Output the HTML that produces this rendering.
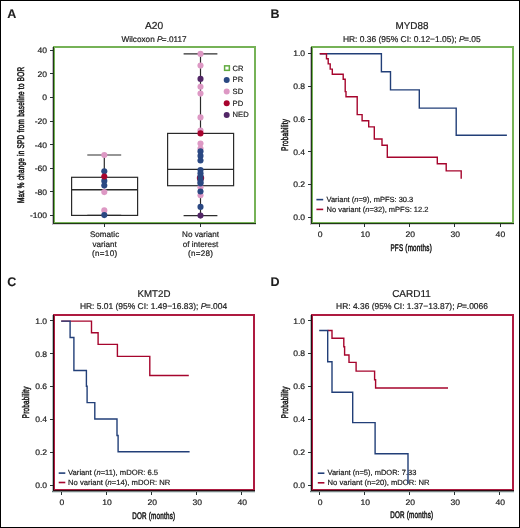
<!DOCTYPE html><html><head><meta charset="utf-8"><style>html,body{margin:0;padding:0;background:#fff;width:520px;height:528px;overflow:hidden;}svg{display:block;will-change:transform;text-rendering:geometricPrecision;}</style></head><body>
<svg width="520" height="528" viewBox="0 0 520 528" font-family='"Liberation Sans", sans-serif' fill="#1c1c1c">
<style>text{stroke:#1c1c1c;stroke-width:0.2px;}</style>
<rect x="0" y="0" width="520" height="528" fill="#fff"/>
<rect x="0.5" y="0.5" width="519" height="527" fill="none" stroke="#000" stroke-width="1"/>
<text x="7.2" y="17.8" font-size="12.5" text-anchor="start" font-weight="bold" style="stroke-width:0.1px">A</text>
<text x="270.6" y="17.9" font-size="12.5" text-anchor="start" font-weight="bold" style="stroke-width:0.1px">B</text>
<text x="7.2" y="285.8" font-size="12.5" text-anchor="start" font-weight="bold" style="stroke-width:0.1px">C</text>
<text x="270.6" y="285.6" font-size="12.5" text-anchor="start" font-weight="bold" style="stroke-width:0.1px">D</text>
<text x="154" y="29.2" font-size="10.2" text-anchor="middle" font-weight="normal" >A20</text>
<text x="154" y="41.8" font-size="8.2" text-anchor="middle" font-weight="normal" >Wilcoxon <tspan font-style="italic" dx="0">P</tspan><tspan dx="-0.6">=</tspan>.0117</text>
<line x1="104.3" y1="155.0" x2="104.3" y2="177.3" stroke="#2a2a2a" stroke-width="1.2"/>
<line x1="104.3" y1="215.4" x2="104.3" y2="215.4" stroke="#2a2a2a" stroke-width="1.2"/>
<line x1="87.3" y1="155.0" x2="121.2" y2="155.0" stroke="#2e2e2e" stroke-width="1.2"/>
<line x1="87.3" y1="215.4" x2="121.2" y2="215.4" stroke="#2e2e2e" stroke-width="1.2"/>
<rect x="71.6" y="177.3" width="66.0" height="38.099999999999994" fill="none" stroke="#2a2a2a" stroke-width="1.2"/>
<line x1="71.6" y1="189.8" x2="137.6" y2="189.8" stroke="#2a2a2a" stroke-width="1.4"/>
<line x1="200.5" y1="53.9" x2="200.5" y2="133.4" stroke="#2a2a2a" stroke-width="1.2"/>
<line x1="200.5" y1="185.7" x2="200.5" y2="215.6" stroke="#2a2a2a" stroke-width="1.2"/>
<line x1="183.6" y1="53.9" x2="217.4" y2="53.9" stroke="#2e2e2e" stroke-width="1.2"/>
<line x1="183.6" y1="215.6" x2="217.4" y2="215.6" stroke="#2e2e2e" stroke-width="1.2"/>
<rect x="167.6" y="133.4" width="66.0" height="52.29999999999998" fill="none" stroke="#2a2a2a" stroke-width="1.2"/>
<line x1="167.6" y1="169.4" x2="233.6" y2="169.4" stroke="#2a2a2a" stroke-width="1.4"/>
<circle cx="104.3" cy="155.0" r="3.05" fill="#dd98c4"/>
<circle cx="104.3" cy="171.3" r="3.05" fill="#2a4882"/>
<circle cx="104.3" cy="185.6" r="3.05" fill="#2a4882"/>
<circle cx="104.3" cy="180.9" r="3.05" fill="#2a4882"/>
<circle cx="104.3" cy="176.5" r="3.05" fill="#a8042e"/>
<circle cx="104.3" cy="192.1" r="3.05" fill="#dd98c4"/>
<circle cx="104.3" cy="210.4" r="3.05" fill="#dd98c4"/>
<circle cx="104.3" cy="215.1" r="3.05" fill="#2a4882"/>
<circle cx="200.5" cy="53.9" r="3.05" fill="#dd98c4"/>
<circle cx="200.5" cy="65.6" r="3.05" fill="#dd98c4"/>
<circle cx="200.5" cy="78.9" r="3.05" fill="#522666"/>
<circle cx="200.5" cy="86.8" r="3.05" fill="#dd98c4"/>
<circle cx="200.5" cy="93.6" r="3.05" fill="#dd98c4"/>
<circle cx="200.5" cy="117.4" r="3.05" fill="#dd98c4"/>
<circle cx="200.5" cy="130.6" r="3.05" fill="#dd98c4"/>
<circle cx="200.5" cy="133.4" r="3.05" fill="#a8042e"/>
<circle cx="200.5" cy="143.6" r="3.05" fill="#dd98c4"/>
<circle cx="200.5" cy="148.6" r="3.05" fill="#dd98c4"/>
<circle cx="200.5" cy="151.4" r="3.05" fill="#2a4882"/>
<circle cx="200.5" cy="155.9" r="3.05" fill="#2a4882"/>
<circle cx="200.5" cy="160.5" r="3.05" fill="#2a4882"/>
<circle cx="200.5" cy="187.2" r="3.05" fill="#dd98c4"/>
<circle cx="200.5" cy="195.3" r="3.05" fill="#dd98c4"/>
<circle cx="200.5" cy="178.1" r="3.7" fill="#a8042e"/>
<circle cx="200.5" cy="170.0" r="3.05" fill="#2a4882"/>
<circle cx="200.5" cy="173.2" r="3.05" fill="#2a4882"/>
<circle cx="200.5" cy="176.3" r="3.05" fill="#2a4882"/>
<circle cx="200.5" cy="179.5" r="3.05" fill="#2a4882"/>
<circle cx="200.5" cy="182.0" r="3.05" fill="#2a4882"/>
<circle cx="200.5" cy="183.4" r="3.05" fill="#2a4882"/>
<circle cx="200.5" cy="191.5" r="3.05" fill="#2a4882"/>
<circle cx="200.5" cy="206.9" r="3.05" fill="#2a4882"/>
<circle cx="200.5" cy="215.6" r="3.05" fill="#522666"/>
<rect x="224.6" y="65.85" width="4.75" height="4.5" fill="#fff" stroke="#62ab40" stroke-width="1.5"/>
<text x="232.6" y="70.80" font-size="7.6" text-anchor="start" font-weight="normal" >CR</text>
<circle cx="226.7" cy="79.95" r="3.0" fill="#2a4882"/>
<text x="232.6" y="82.45" font-size="7.6" text-anchor="start" font-weight="normal" >PR</text>
<circle cx="226.7" cy="91.60" r="3.0" fill="#dd98c4"/>
<text x="232.6" y="94.10" font-size="7.6" text-anchor="start" font-weight="normal" >SD</text>
<circle cx="226.7" cy="103.25" r="3.0" fill="#a8042e"/>
<text x="232.6" y="105.75" font-size="7.6" text-anchor="start" font-weight="normal" >PD</text>
<circle cx="226.7" cy="114.90" r="3.0" fill="#522666"/>
<text x="232.6" y="117.40" font-size="7.6" text-anchor="start" font-weight="normal" >NED</text>
<line x1="52.5" y1="47" x2="52.5" y2="225" stroke="#c2b3c8" stroke-width="1"/>
<line x1="52" y1="224.5" x2="256" y2="224.5" stroke="#c2b3c8" stroke-width="1" opacity="0.6"/>
<rect x="54" y="47" width="201" height="176" fill="none" stroke="#76b257" stroke-width="2"/>
<line x1="53.5" y1="47" x2="53.5" y2="224" stroke="#1e3c12" stroke-width="1"/>
<line x1="53" y1="223.5" x2="256" y2="223.5" stroke="#1e3c12" stroke-width="1"/>
<line x1="50" y1="50.50" x2="53" y2="50.50" stroke="#263232" stroke-width="1"/>
<text transform="translate(47.1,53.25) scale(1.08,1)" font-size="7.95" text-anchor="end">40</text>
<line x1="50" y1="73.50" x2="53" y2="73.50" stroke="#263232" stroke-width="1"/>
<text transform="translate(47.1,76.82) scale(1.08,1)" font-size="7.95" text-anchor="end">20</text>
<line x1="50" y1="97.50" x2="53" y2="97.50" stroke="#263232" stroke-width="1"/>
<text transform="translate(47.1,100.39) scale(1.08,1)" font-size="7.95" text-anchor="end">0</text>
<line x1="50" y1="121.50" x2="53" y2="121.50" stroke="#263232" stroke-width="1"/>
<text transform="translate(47.1,123.96) scale(1.08,1)" font-size="7.95" text-anchor="end">-20</text>
<line x1="50" y1="144.50" x2="53" y2="144.50" stroke="#263232" stroke-width="1"/>
<text transform="translate(47.1,147.54) scale(1.08,1)" font-size="7.95" text-anchor="end">-40</text>
<line x1="50" y1="168.50" x2="53" y2="168.50" stroke="#263232" stroke-width="1"/>
<text transform="translate(47.1,171.11) scale(1.08,1)" font-size="7.95" text-anchor="end">-60</text>
<line x1="50" y1="191.50" x2="53" y2="191.50" stroke="#263232" stroke-width="1"/>
<text transform="translate(47.1,194.68) scale(1.08,1)" font-size="7.95" text-anchor="end">-80</text>
<line x1="50" y1="215.50" x2="53" y2="215.50" stroke="#263232" stroke-width="1"/>
<text transform="translate(47.1,218.25) scale(1.08,1)" font-size="7.95" text-anchor="end">-100</text>
<line x1="104.50" y1="224" x2="104.50" y2="227" stroke="#263232" stroke-width="1"/>
<line x1="200.50" y1="224" x2="200.50" y2="227" stroke="#263232" stroke-width="1"/>
<text x="104.6" y="237.20" font-size="8.1" text-anchor="middle" font-weight="normal" >Somatic</text>
<text x="104.6" y="246.80" font-size="8.1" text-anchor="middle" font-weight="normal" >variant</text>
<text x="104.75" y="256.40" font-size="8.1" text-anchor="middle" font-weight="normal" letter-spacing="0.28">(n=10)</text>
<text x="200.5" y="237.20" font-size="8.1" text-anchor="middle" font-weight="normal" >No variant</text>
<text x="200.5" y="246.80" font-size="8.1" text-anchor="middle" font-weight="normal" >of interest</text>
<text x="200.65" y="256.40" font-size="8.1" text-anchor="middle" font-weight="normal" letter-spacing="0.28">(n=28)</text>
<text transform="translate(23.9,134.9) rotate(-90) scale(0.667,1)" font-size="9.6" font-weight="normal" text-anchor="middle" letter-spacing="0.35" style="stroke-width:0.55px">Max % change in SPD from baseline to BOR</text>
<text x="412" y="29.0" font-size="9.9" text-anchor="middle" font-weight="normal" >MYD88</text>
<text x="411.8" y="41.9" font-size="8.45" text-anchor="middle" font-weight="normal" >HR: 0.36 (95% CI: 0.12−1.05); <tspan font-style="italic" dx="0">P</tspan><tspan dx="-0.6">=</tspan>.05</text>
<polyline points="319.75,53.70 381.40,53.70 381.40,71.80 390.50,71.80 390.50,89.90 419.30,89.90 419.30,108.10 456.20,108.10 456.20,135.20 506.90,135.20" fill="none" stroke="#223f78" stroke-width="1.4" stroke-linejoin="miter" stroke-linecap="butt"/>
<polyline points="319.75,53.70 326.50,53.70 326.50,58.70 328.20,58.70 328.20,63.90 330.20,63.90 330.20,69.10 332.30,69.10 332.30,74.20 343.20,74.20 343.20,79.30 345.20,79.30 345.20,91.60 346.00,91.60 346.00,96.70 357.20,96.70 357.20,114.60 362.10,114.60 362.10,120.80 368.70,120.80 368.70,126.90 374.30,126.90 374.30,139.00 382.00,139.00 382.00,145.20 387.30,145.20 387.30,157.30 437.30,157.30 437.30,163.80 446.20,163.80 446.20,170.90 461.20,170.90 461.20,178.80" fill="none" stroke="#a6052d" stroke-width="1.4" stroke-linejoin="miter" stroke-linecap="butt"/>
<line x1="310.5" y1="47" x2="310.5" y2="225" stroke="#c2b3c8" stroke-width="1"/>
<line x1="310" y1="224.5" x2="514" y2="224.5" stroke="#c2b3c8" stroke-width="1" opacity="0.6"/>
<rect x="312" y="47" width="201" height="176" fill="none" stroke="#76b257" stroke-width="2"/>
<line x1="311.5" y1="47" x2="311.5" y2="224" stroke="#1e3c12" stroke-width="1"/>
<line x1="311" y1="223.5" x2="514" y2="223.5" stroke="#1e3c12" stroke-width="1"/>
<line x1="308" y1="53.50" x2="311" y2="53.50" stroke="#263232" stroke-width="1"/>
<text transform="translate(305.1,56.45) scale(1.08,1)" font-size="7.95" text-anchor="end">1.0</text>
<line x1="308" y1="86.50" x2="311" y2="86.50" stroke="#263232" stroke-width="1"/>
<text transform="translate(305.1,89.18) scale(1.08,1)" font-size="7.95" text-anchor="end">0.8</text>
<line x1="308" y1="119.50" x2="311" y2="119.50" stroke="#263232" stroke-width="1"/>
<text transform="translate(305.1,121.91) scale(1.08,1)" font-size="7.95" text-anchor="end">0.6</text>
<line x1="308" y1="151.50" x2="311" y2="151.50" stroke="#263232" stroke-width="1"/>
<text transform="translate(305.1,154.64) scale(1.08,1)" font-size="7.95" text-anchor="end">0.4</text>
<line x1="308" y1="184.50" x2="311" y2="184.50" stroke="#263232" stroke-width="1"/>
<text transform="translate(305.1,187.37) scale(1.08,1)" font-size="7.95" text-anchor="end">0.2</text>
<line x1="308" y1="217.50" x2="311" y2="217.50" stroke="#263232" stroke-width="1"/>
<text transform="translate(305.1,220.10) scale(1.08,1)" font-size="7.95" text-anchor="end">0.0</text>
<line x1="319.50" y1="224" x2="319.50" y2="227" stroke="#263232" stroke-width="1"/>
<text transform="translate(320.15,237.0) scale(1.08,1)" font-size="7.95" text-anchor="middle">0</text>
<line x1="364.50" y1="224" x2="364.50" y2="227" stroke="#263232" stroke-width="1"/>
<text transform="translate(365.21,237.0) scale(1.08,1)" font-size="7.95" text-anchor="middle">10</text>
<line x1="409.50" y1="224" x2="409.50" y2="227" stroke="#263232" stroke-width="1"/>
<text transform="translate(410.28,237.0) scale(1.08,1)" font-size="7.95" text-anchor="middle">20</text>
<line x1="454.50" y1="224" x2="454.50" y2="227" stroke="#263232" stroke-width="1"/>
<text transform="translate(455.34,237.0) scale(1.08,1)" font-size="7.95" text-anchor="middle">30</text>
<line x1="500.50" y1="224" x2="500.50" y2="227" stroke="#263232" stroke-width="1"/>
<text transform="translate(500.40,237.0) scale(1.08,1)" font-size="7.95" text-anchor="middle">40</text>
<text transform="translate(411.2,250.6) scale(0.655,1)" font-size="9.6" font-weight="normal" text-anchor="middle" letter-spacing="0.35" style="stroke-width:0.55px">PFS (months)</text>
<text transform="translate(287.6,134.85) rotate(-90) scale(0.655,1)" font-size="9.6" font-weight="normal" text-anchor="middle" letter-spacing="0.35" style="stroke-width:0.55px">Probability</text>
<line x1="316.4" y1="199.6" x2="323.2" y2="199.6" stroke="#223f78" stroke-width="1.6"/>
<line x1="316.4" y1="209.4" x2="323.2" y2="209.4" stroke="#a6052d" stroke-width="1.6"/>
<text x="326.5" y="202.1" font-size="7.5" text-anchor="start" font-weight="normal" >Variant (<tspan font-style="italic">n</tspan>=9), mPFS: 30.3</text>
<text x="326.5" y="211.9" font-size="7.5" text-anchor="start" font-weight="normal" >No variant (<tspan font-style="italic">n</tspan>=32), mPFS: 12.2</text>
<text x="154" y="296.7" font-size="9.7" text-anchor="middle" font-weight="normal" >KMT2D</text>
<text x="153.5" y="309.2" font-size="8.45" text-anchor="middle" font-weight="normal" >HR: 5.01 (95% CI: 1.49−16.83); <tspan font-style="italic" dx="0">P</tspan><tspan dx="-0.6">=</tspan>.004</text>
<polyline points="61.20,321.10 91.50,321.10 91.50,332.80 98.10,332.80 98.10,344.40 117.40,344.40 117.40,356.40 149.80,356.40 149.80,375.50 188.80,375.50" fill="none" stroke="#a6052d" stroke-width="1.4" stroke-linejoin="miter" stroke-linecap="butt"/>
<polyline points="61.20,321.10 70.10,321.10 70.10,337.50 73.90,337.50 73.90,370.50 86.40,370.50 86.40,386.30 87.10,386.30 87.10,402.60 94.80,402.60 94.80,419.00 117.00,419.00 117.00,435.50 118.10,435.50 118.10,451.70 189.60,451.70" fill="none" stroke="#223f78" stroke-width="1.4" stroke-linejoin="miter" stroke-linecap="butt"/>
<line x1="52.5" y1="315" x2="52.5" y2="492" stroke="#adc3c3" stroke-width="1"/>
<line x1="52" y1="491.5" x2="255" y2="491.5" stroke="#4a5858" stroke-width="1" opacity="0.75"/>
<line x1="52" y1="492.5" x2="255" y2="492.5" stroke="#adc3c3" stroke-width="1" opacity="0.5"/>
<rect x="54" y="315" width="200" height="175" fill="none" stroke="#ae1a40" stroke-width="2"/>
<line x1="53.5" y1="315" x2="53.5" y2="491" stroke="#300810" stroke-width="1"/>
<line x1="53" y1="490.5" x2="255" y2="490.5" stroke="#300810" stroke-width="1"/>
<line x1="50" y1="320.50" x2="53" y2="320.50" stroke="#263232" stroke-width="1"/>
<text transform="translate(47.1,323.65) scale(1.08,1)" font-size="7.95" text-anchor="end">1.0</text>
<line x1="50" y1="353.50" x2="53" y2="353.50" stroke="#263232" stroke-width="1"/>
<text transform="translate(47.1,356.51) scale(1.08,1)" font-size="7.95" text-anchor="end">0.8</text>
<line x1="50" y1="386.50" x2="53" y2="386.50" stroke="#263232" stroke-width="1"/>
<text transform="translate(47.1,389.37) scale(1.08,1)" font-size="7.95" text-anchor="end">0.6</text>
<line x1="50" y1="419.50" x2="53" y2="419.50" stroke="#263232" stroke-width="1"/>
<text transform="translate(47.1,422.23) scale(1.08,1)" font-size="7.95" text-anchor="end">0.4</text>
<line x1="50" y1="452.50" x2="53" y2="452.50" stroke="#263232" stroke-width="1"/>
<text transform="translate(47.1,455.09) scale(1.08,1)" font-size="7.95" text-anchor="end">0.2</text>
<line x1="50" y1="485.50" x2="53" y2="485.50" stroke="#263232" stroke-width="1"/>
<text transform="translate(47.1,487.95) scale(1.08,1)" font-size="7.95" text-anchor="end">0.0</text>
<line x1="61.50" y1="492" x2="61.50" y2="495" stroke="#263232" stroke-width="1"/>
<text transform="translate(62.00,504.7) scale(1.08,1)" font-size="7.95" text-anchor="middle">0</text>
<line x1="106.50" y1="492" x2="106.50" y2="495" stroke="#263232" stroke-width="1"/>
<text transform="translate(107.08,504.7) scale(1.08,1)" font-size="7.95" text-anchor="middle">10</text>
<line x1="151.50" y1="492" x2="151.50" y2="495" stroke="#263232" stroke-width="1"/>
<text transform="translate(152.16,504.7) scale(1.08,1)" font-size="7.95" text-anchor="middle">20</text>
<line x1="196.50" y1="492" x2="196.50" y2="495" stroke="#263232" stroke-width="1"/>
<text transform="translate(197.24,504.7) scale(1.08,1)" font-size="7.95" text-anchor="middle">30</text>
<line x1="241.50" y1="492" x2="241.50" y2="495" stroke="#263232" stroke-width="1"/>
<text transform="translate(242.32,504.7) scale(1.08,1)" font-size="7.95" text-anchor="middle">40</text>
<text transform="translate(153.8,518.5) scale(0.655,1)" font-size="9.6" font-weight="normal" text-anchor="middle" letter-spacing="0.35" style="stroke-width:0.55px">DOR (months)</text>
<text transform="translate(29.2,402.35) rotate(-90) scale(0.655,1)" font-size="9.6" font-weight="normal" text-anchor="middle" letter-spacing="0.35" style="stroke-width:0.55px">Probability</text>
<line x1="58.7" y1="473.1" x2="65.3" y2="473.1" stroke="#223f78" stroke-width="1.6"/>
<line x1="58.7" y1="482.5" x2="65.3" y2="482.5" stroke="#a6052d" stroke-width="1.6"/>
<text x="68.1" y="475.3" font-size="7.65" text-anchor="start" font-weight="normal" >Variant (<tspan font-style="italic">n</tspan>=11), mDOR: 6.5</text>
<text x="68.1" y="484.9" font-size="7.65" text-anchor="start" font-weight="normal" >No variant (<tspan font-style="italic">n</tspan>=14), mDOR: NR</text>
<text x="411.5" y="296.6" font-size="10.0" text-anchor="middle" font-weight="normal" >CARD11</text>
<text x="412" y="309.2" font-size="8.45" text-anchor="middle" font-weight="normal" >HR: 4.36 (95% CI: 1.37−13.87); <tspan font-style="italic" dx="0">P</tspan><tspan dx="-0.6">=</tspan>.0066</text>
<line x1="317.8" y1="473.2" x2="324.4" y2="473.2" stroke="#223f78" stroke-width="1.6"/>
<line x1="317.8" y1="482.8" x2="324.4" y2="482.8" stroke="#a6052d" stroke-width="1.6"/>
<text x="327.5" y="475.4" font-size="7.5" text-anchor="start" font-weight="normal" >Variant (n=5), mDOR: 7.33</text>
<text x="327.5" y="484.8" font-size="7.65" text-anchor="start" font-weight="normal" >No variant (n=20), mDOR: NR</text>
<polyline points="327.70,330.50 332.00,330.50 332.00,338.30 343.80,338.30 343.80,346.70 344.60,346.70 344.60,355.00 349.00,355.00 349.00,362.40 356.10,362.40 356.10,371.10 374.60,371.10 374.60,379.80 375.60,379.80 375.60,388.00 448.00,388.00" fill="none" stroke="#a6052d" stroke-width="1.4" stroke-linejoin="miter" stroke-linecap="butt"/>
<polyline points="319.20,330.50 327.70,330.50 327.70,361.70 332.00,361.70 332.00,392.30 352.70,392.30 352.70,422.60 375.10,422.60 375.10,453.70 408.00,453.70 408.00,483.80" fill="none" stroke="#223f78" stroke-width="1.4" stroke-linejoin="miter" stroke-linecap="butt"/>
<line x1="310.5" y1="315" x2="310.5" y2="492" stroke="#adc3c3" stroke-width="1"/>
<line x1="310" y1="491.5" x2="514" y2="491.5" stroke="#4a5858" stroke-width="1" opacity="0.75"/>
<line x1="310" y1="492.5" x2="514" y2="492.5" stroke="#adc3c3" stroke-width="1" opacity="0.5"/>
<rect x="312" y="315" width="201" height="175" fill="none" stroke="#ae1a40" stroke-width="2"/>
<line x1="311.5" y1="315" x2="311.5" y2="491" stroke="#300810" stroke-width="1"/>
<line x1="311" y1="490.5" x2="514" y2="490.5" stroke="#300810" stroke-width="1"/>
<line x1="308" y1="320.50" x2="311" y2="320.50" stroke="#263232" stroke-width="1"/>
<text transform="translate(305.1,323.55) scale(1.08,1)" font-size="7.95" text-anchor="end">1.0</text>
<line x1="308" y1="353.50" x2="311" y2="353.50" stroke="#263232" stroke-width="1"/>
<text transform="translate(305.1,356.41) scale(1.08,1)" font-size="7.95" text-anchor="end">0.8</text>
<line x1="308" y1="386.50" x2="311" y2="386.50" stroke="#263232" stroke-width="1"/>
<text transform="translate(305.1,389.27) scale(1.08,1)" font-size="7.95" text-anchor="end">0.6</text>
<line x1="308" y1="419.50" x2="311" y2="419.50" stroke="#263232" stroke-width="1"/>
<text transform="translate(305.1,422.13) scale(1.08,1)" font-size="7.95" text-anchor="end">0.4</text>
<line x1="308" y1="452.50" x2="311" y2="452.50" stroke="#263232" stroke-width="1"/>
<text transform="translate(305.1,454.99) scale(1.08,1)" font-size="7.95" text-anchor="end">0.2</text>
<line x1="308" y1="485.50" x2="311" y2="485.50" stroke="#263232" stroke-width="1"/>
<text transform="translate(305.1,487.85) scale(1.08,1)" font-size="7.95" text-anchor="end">0.0</text>
<line x1="319.50" y1="492" x2="319.50" y2="495" stroke="#263232" stroke-width="1"/>
<text transform="translate(320.10,504.7) scale(1.08,1)" font-size="7.95" text-anchor="middle">0</text>
<line x1="364.50" y1="492" x2="364.50" y2="495" stroke="#263232" stroke-width="1"/>
<text transform="translate(365.17,504.7) scale(1.08,1)" font-size="7.95" text-anchor="middle">10</text>
<line x1="409.50" y1="492" x2="409.50" y2="495" stroke="#263232" stroke-width="1"/>
<text transform="translate(410.24,504.7) scale(1.08,1)" font-size="7.95" text-anchor="middle">20</text>
<line x1="454.50" y1="492" x2="454.50" y2="495" stroke="#263232" stroke-width="1"/>
<text transform="translate(455.31,504.7) scale(1.08,1)" font-size="7.95" text-anchor="middle">30</text>
<line x1="499.50" y1="492" x2="499.50" y2="495" stroke="#263232" stroke-width="1"/>
<text transform="translate(500.38,504.7) scale(1.08,1)" font-size="7.95" text-anchor="middle">40</text>
<text transform="translate(411.8,518.2) scale(0.655,1)" font-size="9.6" font-weight="normal" text-anchor="middle" letter-spacing="0.35" style="stroke-width:0.55px">DOR (months)</text>
<text transform="translate(287.6,402.35) rotate(-90) scale(0.655,1)" font-size="9.6" font-weight="normal" text-anchor="middle" letter-spacing="0.35" style="stroke-width:0.55px">Probability</text>
</svg></body></html>
